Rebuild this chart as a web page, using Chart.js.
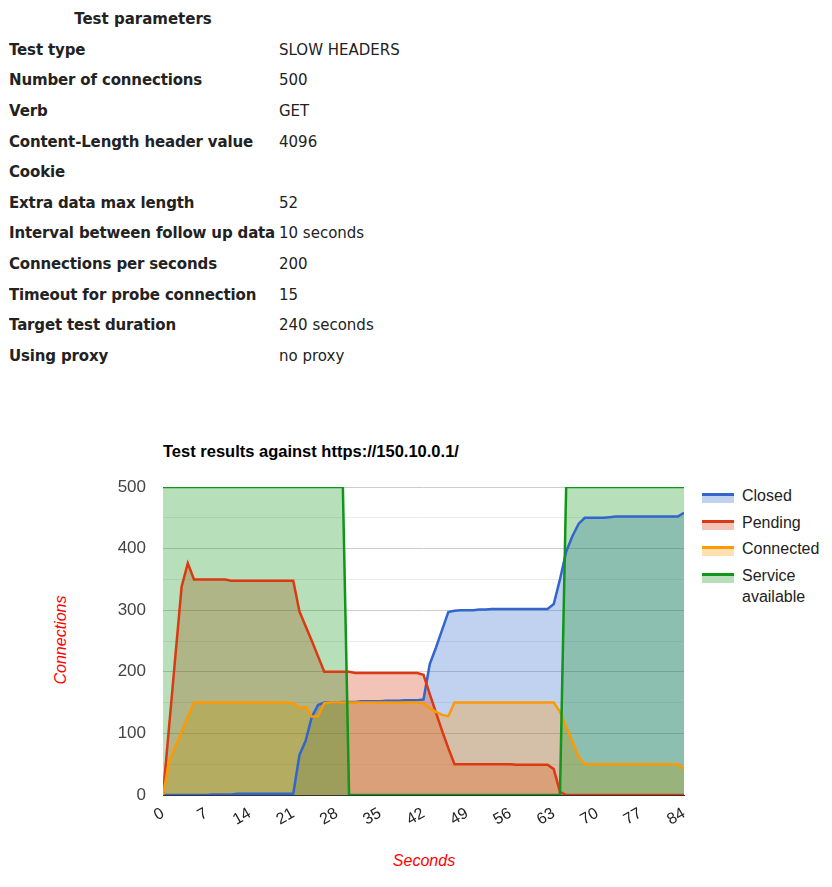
<!DOCTYPE html>
<html lang="en">
<head>
  <meta charset="UTF-8"/>
  <title>Slow headers test results</title>
  <style>
    body { margin: 0; background: #fff; width: 832px; height: 887px; position: relative; overflow: hidden; }
    #params { position: absolute; left: 8px; top: 4px; border-collapse: collapse; table-layout: fixed; width: 470px;
              font-family: "DejaVu Sans", Verdana, sans-serif; font-size: 15px; color: #222; }
    #params th, #params td { padding: 0 1px; height: 30.6px; white-space: nowrap; text-align: left; overflow: visible; }
    #params th { text-align: center; }
    #params td.k { font-weight: bold; letter-spacing: -0.15px; }
    .gtxt { font-family: Arial, "Liberation Sans", sans-serif; position: absolute; white-space: nowrap; }
    #title { left: 163px; top: 442px; font-size: 16.5px; font-weight: bold; color: #000; }
    #ytitle { left: 61px; top: 640px; font-size: 16px; font-style: italic; color: #f00; transform: translate(-50%, -50%) rotate(-90deg); }
    #xtitle { left: 424px; top: 861px; font-size: 16px; font-style: italic; color: #f00; transform: translate(-50%, -50%); }
    #legend { left: 702px; top: 484px; font-size: 16px; color: #222; }
    #legend .item { position: relative; height: 26.5px; }
    #legend .sw { position: absolute; left: 0; top: 9px; width: 32px; height: 7px; border-top: 3px solid; }
    #legend .lab { position: absolute; left: 40px; top: 1px; line-height: 21px; white-space: normal; width: 90px; }
    #wrap { position: absolute; left: 0; top: 400px; width: 832px; height: 487px; }
  </style>
</head>
<body>
  <table id="params">
    <colgroup><col style="width:270px"/><col style="width:200px"/></colgroup>
    <tbody id="paramBody"><tr><th>Test parameters</th><th></th></tr></tbody>
  </table>

  <div id="title" class="gtxt">Test results against https://150.10.0.1/</div>
  <div id="ytitle" class="gtxt">Connections</div>
  <div id="xtitle" class="gtxt">Seconds</div>
  <div id="legend" class="gtxt"></div>

  <div id="wrap"><canvas id="chart" width="832" height="487"></canvas></div>

  <script src="https://cdn.jsdelivr.net/npm/chart.js"></script>
  <script>
  // parameter table
  const paramNames = ['Test type', 'Number of connections', 'Verb', 'Content-Length header value', 'Cookie',
    'Extra data max length', 'Interval between follow up data', 'Connections per seconds',
    'Timeout for probe connection', 'Target test duration', 'Using proxy'];
  const paramValues = ['SLOW HEADERS', '500', 'GET', '4096', '', '52', '10 seconds', '200', '15', '240 seconds', 'no proxy'];

  // chart data, one point per second
  const seconds = [0,1,2,3,4,5,6,7,8,9,10,11,12,13,14,15,16,17,18,19,20,21,22,23,24,25,26,27,28,29,30,
    31,32,33,34,35,36,37,38,39,40,41,42,43,44,45,46,47,48,49,50,51,52,53,54,55,56,57,58,59,60,
    61,62,63,64,65,66,67,68,69,70,71,72,73,74,75,76,77,78,79,80,81,82,83,84];
  const closed = [0,0,0,0,0,0,0,0, 1,1,1,1,2,2,2,2,2,2,2,2,2, 2, 65,88,127,146,150,
    150,150,151,151,151,152,152,152,152,153,153,153,154,154,154,
    155,212,239,268,297,299, 300,300,300,301,301, 302,302,302,302,302,302,302,302,302,302,
    310,350,395,420,440,450, 450,450,450,451, 452,452,452,452,452,452,452,452,452,452,452, 458];
  const pending = [0,113,226,338,376,350, 350,350,350,350,350, 348,348,348,348,348,348,348,348,348,348,348,
    298,274,250,225,200, 200,200,200,200, 198,198,198,198,198,198,198,198,198,198,198,
    195,164,134,104,76,50, 50,50,50,50,50,50,50,50,50, 49,49,49,49,49,49, 42,5,
    0,0,0,0,0,0,0,0,0,0,0,0,0,0,0,0,0,0,0,0];
  const connected = [0,55,79,103,127,150, 150,150,150,150,150,150,150,150,150,150,150,150,150,150,150,
    149,141,143,127,128,149, 150,150,150,150,150,150,150,150,150,150,150,150,150,150,150,
    149,141,135,130,128,150, 150,150,150,150,150,150,150,150,150,150,150,150,150,150,150,150,
    135,111,87,62,50, 50,50,50,50,50,50,50,50,50,50,50,50,50,50,50, 42];
  const serviceAvailable = [500,500,500,500,500,500,500,500,500,500,500,500,500,500,500,
    500,500,500,500,500,500,500,500,500,500,500,500,500,500,500,
    0,0,0,0,0,0,0,0,0,0,0,0,0,0,0,0,0,0,0,0,0,0,0,0,0,0,0,0,0,0,0,0,0,0,0,
    500,500,500,500,500,500,500,500,500,500,500,500,500,500,500,500,500,500,500,500];

  const seriesNames = ['Closed', 'Pending', 'Connected', ['Service', 'available']];
  const seriesColors = ['51,102,204', '220,57,18', '255,153,0', '16,150,24'];
  const xTicks = [0,7,14,21,28,35,42,49,56,63,70,77,84];
  const yTicks = [0,100,200,300,400,500];
  const yGrid = [0,50,100,150,200,250,300,350,400,450,500];

  const body = document.getElementById('paramBody');
  paramNames.forEach((n, i) => {
    const tr = document.createElement('tr');
    tr.innerHTML = '<td class="k"></td><td></td>';
    tr.children[0].textContent = n;
    tr.children[1].textContent = paramValues[i];
    body.appendChild(tr);
  });

  const legend = document.getElementById('legend');
  seriesNames.forEach((n, i) => {
    const it = document.createElement('div');
    it.className = 'item';
    it.innerHTML = '<div class="sw"></div><div class="lab"></div>';
    it.children[0].style.borderTopColor = 'rgb(' + seriesColors[i] + ')';
    it.children[0].style.background = 'rgba(' + seriesColors[i] + ',0.3)';
    it.children[1].innerHTML = [].concat(n).join('<br>');
    legend.appendChild(it);
  });

  const values = [closed, pending, connected, serviceAvailable];
  const datasets = values.map((arr, i) => ({
    label: [].concat(seriesNames[i]).join(' '),
    data: arr.map((v, k) => ({ x: seconds[k], y: v })),
    borderColor: 'rgb(' + seriesColors[i] + ')',
    backgroundColor: 'rgba(' + seriesColors[i] + ',0.3)',
    fill: 'origin',
    order: values.length - 1 - i
  }));

  const font = 'Arial, "Liberation Sans", sans-serif';
  new Chart(document.getElementById('chart'), {
    type: 'line',
    data: { datasets },
    options: {
      responsive: false,
      animation: false,
      layout: { padding: { left: 0, top: 87, right: 148, bottom: 0 } },
      plugins: {
        legend: { display: false },
        tooltip: { enabled: false },
        filler: { drawTime: 'beforeDatasetsDraw' }   // all areas first, then the lines
      },
      elements: { point: { radius: 0 }, line: { tension: 0, borderWidth: 2.5 } },
      scales: {
        x: {
          type: 'linear', min: 0, max: 84,
          afterBuildTicks: s => { s.ticks = xTicks.map(v => ({ value: v })); },
          afterFit: s => { s.height = 92; },
          grid: { display: false, drawTicks: false },
          border: { display: true, color: '#333' },
          ticks: { minRotation: 30, maxRotation: 30, padding: 9, color: '#222', font: { family: font, size: 16 } }
        },
        y: {
          min: 0, max: 500,
          afterBuildTicks: s => { s.ticks = yGrid.map(v => ({ value: v })); },
          afterFit: s => { s.width = 163; },
          grid: { drawTicks: false, color: c => c.tick.value === 0 ? '#333' : (c.tick.value % 100 === 0 ? '#cccccc' : '#ebebeb') },
          border: { display: false },
          ticks: { padding: 17, color: '#444', font: { family: font, size: 17 },
                   callback: v => yTicks.includes(v) ? String(v) : '' }
        }
      }
    }
  });
  </script>
</body>
</html>
